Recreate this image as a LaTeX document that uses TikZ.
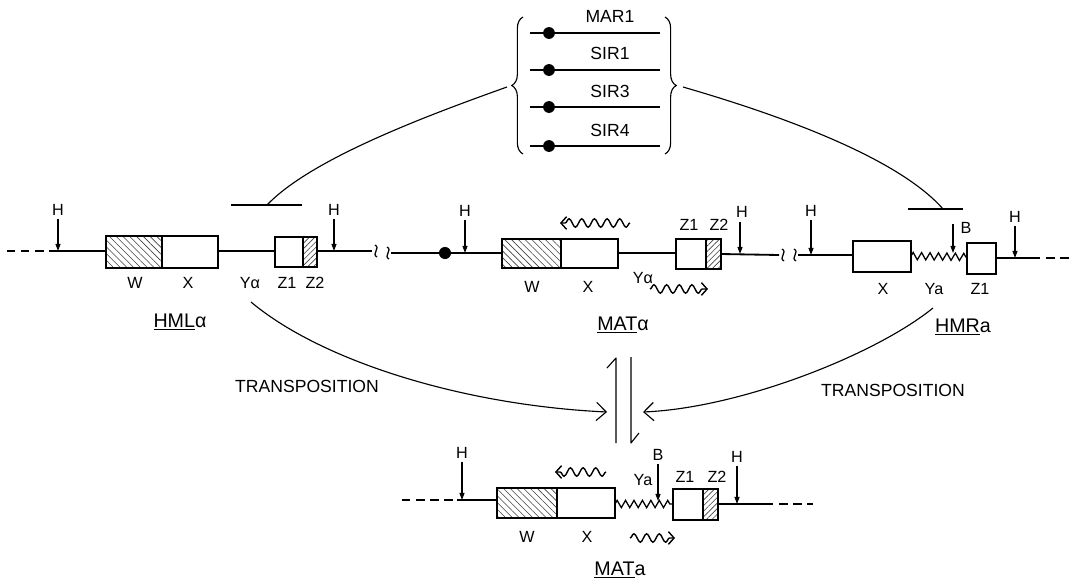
\documentclass[tikz,border=0pt]{standalone}
\usepackage{fontspec}
\setmainfont{Liberation Sans}
\usetikzlibrary{arrows.meta,decorations.pathmorphing,decorations.pathreplacing,patterns.meta}
\begin{document}
\begin{tikzpicture}[x=0.025cm,y=-0.025cm,
 chrom/.style={line width=1.3pt},
 dashchrom/.style={line width=1.3pt, dash pattern=on 6pt off 4pt},
 gbox/.style={line width=1pt},
 hatchW/.style={pattern={Lines[angle=-45,distance=3.4pt,line width=0.45pt]}, pattern color=black!75},
 hatchZ/.style={pattern={Lines[angle=45,distance=2.8pt,line width=0.45pt]}, pattern color=black!75},
 harr/.style={line width=0.8pt, -{Triangle[length=5pt,width=3.5pt]}},
 lbl/.style={font=\fontsize{11.5}{13}\selectfont, inner sep=0pt},
 glbl/.style={font=\fontsize{12.5}{15}\selectfont, inner sep=0pt},
 locus/.style={font=\fontsize{14}{16}\selectfont, inner sep=0pt},
 curve/.style={line width=0.8pt},
 inhib/.style={line width=0.9pt},
 wave/.style={line width=1pt, decorate, decoration={snake, amplitude=3pt, segment length=9pt, post length=3pt}, -{Straight Barb[length=4pt,width=9pt]}},
 zz/.style={line width=0.9pt, decorate, decoration={zigzag, amplitude=2.6pt, segment length=6pt}},
 trarr/.style={curve, -{Straight Barb[length=7pt,width=13pt]}},
 brk/.pic={\draw[line width=0.9pt] (-1,-6) .. controls (5,-3) and (-5,3) .. (1,6);}
]
\useasboundingbox (0,0) rectangle (1078,580);

% ---------- top: repressor box ----------
\draw[line width=0.8pt, decorate, decoration={brace, amplitude=8pt}] (523,154) -- (523,17);
\draw[line width=0.8pt, decorate, decoration={brace, amplitude=8pt}] (665,17) -- (665,154);
\coordinate (braceL) at (507,87);
\coordinate (braceR) at (683,87);
\foreach \yy/\name/\txt/\ly in {33/mar/MAR1/16, 70/sira/SIR1/53, 107/sirb/SIR3/91, 146/sirc/SIR4/130}{
  \coordinate (\name s) at (530,\yy);
  \coordinate (\name e) at (660,\yy);
  \draw[line width=1.1pt] (\name s) -- (\name e);
  \fill (549,\yy) circle[radius=4.2pt];
  \node[glbl] (\name l) at (610,\ly) {\txt};
}

% inhibition lines
\coordinate (barLa) at (231,205); \coordinate (barLb) at (302,205); \coordinate (barLm) at (267,205);
\coordinate (barRa) at (908,209); \coordinate (barRb) at (963,209); \coordinate (barRm) at (943,209);
\draw[curve] (braceL) .. controls (420,118) and (310,160) .. (barLm);
\draw[inhib] (barLa) -- (barLb);
\draw[curve] (braceR) .. controls (790,118) and (900,160) .. (barRm);
\draw[inhib] (barRa) -- (barRb);

% ---------- HML alpha ----------
\draw[dashchrom] (7,251) -- (50,251);
\draw[chrom] (50,251) -- (106,251);
\draw[gbox,hatchW] (106,236) rectangle (162,268);
\draw[gbox] (162,236) rectangle (218,268);
\draw[chrom] (218,251) -- (275,251);
\draw[gbox] (275,237) rectangle (303,267);
\draw[gbox,hatchZ] (303,237) rectangle (317,267);
\draw[chrom] (317,251) -- (372,251);
\pic at (376,251) {brk};
\pic at (388,253) {brk};
\node[lbl] (hmlH1) at (58,210) {H};
\draw[harr] (hmlH1.south) ++(0,3) -- (58,251);
\node[lbl] (hmlH2) at (334,210) {H};
\draw[harr] (hmlH2.south) ++(0,3) -- (334,251);
\node[lbl] (hmlW) at (135,283) {W};
\node[lbl] (hmlX) at (188,283) {X};
\node[lbl] (hmlY) at (250,283) {Yα};
\node[lbl] (hmlZ1) at (287,283) {Z1};
\node[lbl] (hmlZ2) at (315,283) {Z2};
\node[locus] (hml) at (180,322) {\underline{HML}α};

% ---------- MAT alpha ----------
\draw[chrom] (391,253) -- (502,253);
\fill (445,253) circle[radius=4.3pt];
\draw[gbox,hatchW] (502,239) rectangle (561,268);
\draw[gbox] (561,239) rectangle (618,268);
\draw[chrom] (618,253) -- (676,253);
\draw[gbox] (676,239) rectangle (706,269);
\draw[gbox,hatchZ] (706,239) rectangle (721,269);
\draw[chrom] (721,254) -- (779,255);
\pic at (783,255) {brk};
\pic at (795,255) {brk};
\node[lbl] (matH1) at (465,211) {H};
\draw[harr] (matH1.south) ++(0,3) -- (465,253);
\node[lbl] (matH2) at (742,212) {H};
\draw[harr] (740,222) -- (740,254);
\node[lbl] (matZ1) at (689,225) {Z1};
\node[lbl] (matZ2) at (719,225) {Z2};
\node[lbl] (matW) at (532,287) {W};
\node[lbl] (matX) at (588,287) {X};
\node[lbl] (matY) at (643,278) {Yα};
\draw[wave] (630,223) -- (560,223);
\draw[wave] (650,289) -- (708,289);
\node[locus] (matA) at (623,325) {\underline{MAT}α};

% ---------- HMR a ----------
\draw[chrom] (798,255) -- (853,255);
\draw[gbox] (853,241) rectangle (911,272);
\draw[zz] (911,256) -- (967,257);
\draw[gbox] (967,243) rectangle (996,274);
\draw[chrom] (996,258) -- (1032,258);
\draw[dashchrom] (1032,258) -- (1070,258);
\node[lbl] (hmrH1) at (811,211) {H};
\draw[harr] (hmrH1.south) ++(0,3) -- (811,255);
\node[lbl] (hmrB) at (966,228) {B};
\draw[harr] (953,224) -- (953,253);
\node[lbl] (hmrH2) at (1015,217) {H};
\draw[harr] (hmrH2.south) ++(0,3) -- (1015,258);
\node[lbl] (hmrX) at (883,289) {X};
\node[lbl] (hmrY) at (934,289) {Ya};
\node[lbl] (hmrZ1) at (980,289) {Z1};
\node[locus] (hmr) at (963,327) {\underline{HMR}a};

% ---------- transposition ----------
\coordinate (tlS) at (251,302);
\coordinate (tlE) at (607,412);
\coordinate (trS) at (933,308);
\coordinate (trE) at (643,412);
\draw[trarr] (tlS) .. controls (320,360) and (460,405) .. (tlE);
\draw[trarr] (trS) .. controls (875,355) and (740,408) .. (trE);
\node[glbl] (tpL) at (307,386) {TRANSPOSITION};
\node[glbl] (tpR) at (893,390) {TRANSPOSITION};
\coordinate (eqLb) at (616,443); \coordinate (eqLt) at (616,358);
\coordinate (eqRt) at (631,357); \coordinate (eqRb) at (631,443);
\draw[curve, line join=round] (eqLb) -- (eqLt) -- ++(-9,10);
\draw[curve, line join=round] (eqRt) -- (eqRb) -- ++(8,-10);

% ---------- MAT a ----------
\draw[dashchrom] (402,500) -- (457,500);
\draw[chrom] (457,500) -- (497,500);
\draw[gbox,hatchW] (497,488) rectangle (557,518);
\draw[gbox] (557,488) rectangle (615,518);
\draw[zz] (615,504) -- (673,504);
\draw[gbox] (673,489) rectangle (703,520);
\draw[gbox,hatchZ] (703,489) rectangle (718,520);
\draw[chrom] (718,504) -- (765,504);
\draw[dashchrom] (765,504) -- (813,504);
\node[lbl] (maH1) at (462,453) {H};
\draw[harr] (maH1.south) ++(0,3) -- (462,500);
\node[lbl] (maB) at (658,455) {B};
\draw[harr] (maB.south) ++(0,3) -- (658,501);
\node[lbl] (maH2) at (737,457) {H};
\draw[harr] (maH2.south) ++(0,3) -- (737,504);
\node[lbl] (maY) at (643,480) {Ya};
\node[lbl] (maZ1) at (685,477) {Z1};
\node[lbl] (maZ2) at (717,477) {Z2};
\node[lbl] (maW) at (527,537) {W};
\node[lbl] (maX) at (587,537) {X};
\draw[wave] (606,472) -- (555,472);
\draw[wave] (630,538) -- (675,538);
\node[locus] (mata) at (620,570) {\underline{MAT}a};
\end{tikzpicture}
\end{document}
